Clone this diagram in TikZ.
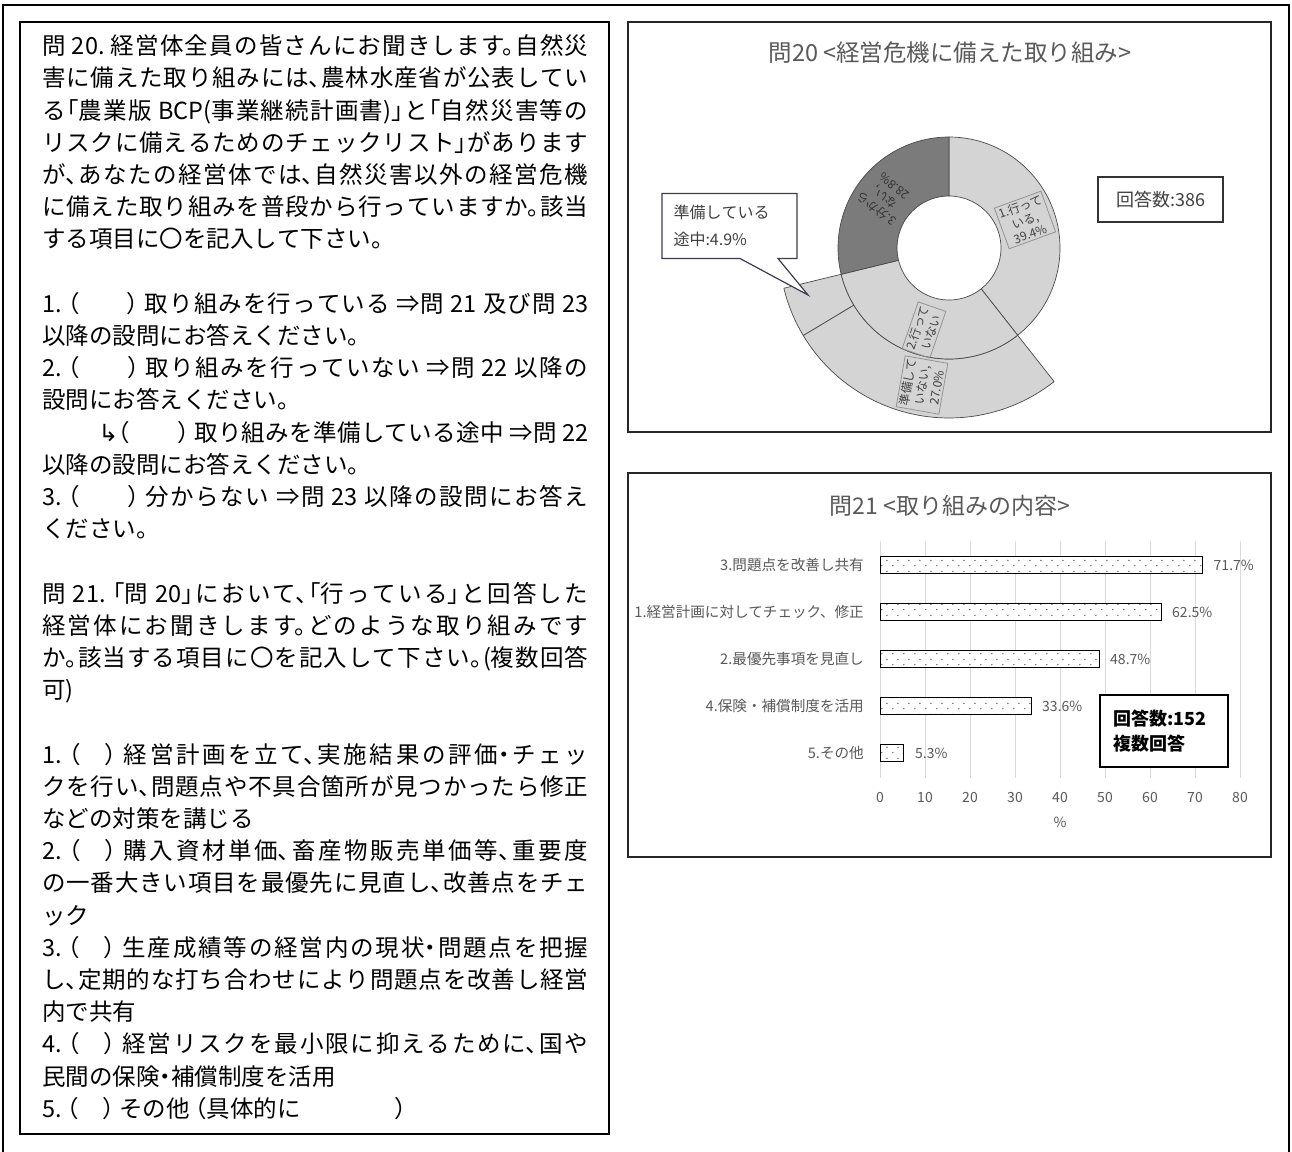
\documentclass[tikz,border=0pt]{standalone}
\usepackage{fontspec}
\usetikzlibrary{shapes.callouts,patterns}
\newfontfamily\jp{Noto Sans CJK JP}
\newfontfamily\jpq{Noto Sans CJK JP}[RawFeature=+halt]
\newfontfamily\dvs{DejaVu Sans}
\XeTeXlinebreaklocale "ja"
\XeTeXlinebreakskip=0pt plus 3pt minus 1pt
\definecolor{txtgray}{HTML}{595959}
\definecolor{lblgray}{HTML}{404040}
\definecolor{segl}{HTML}{D4D4D4}
\definecolor{segd}{HTML}{7B7B7B}
\definecolor{edge}{HTML}{4A4A4A}
\definecolor{gridc}{HTML}{D9D9D9}
\definecolor{callb}{HTML}{3C3C52}
\pgfdeclarepatternformonly{sparsedots}{\pgfqpoint{0pt}{0pt}}{\pgfqpoint{11pt}{11pt}}{\pgfqpoint{11pt}{11pt}}{%
  \pgfpathcircle{\pgfqpoint{2pt}{2.5pt}}{0.75pt}%
  \pgfpathcircle{\pgfqpoint{7.5pt}{8pt}}{0.75pt}%
  \pgfusepath{fill}}
\tikzset{
  seg/.style={draw=edge, line width=0.7pt, line join=round},
  dlbl/.style={font=\jp\fontsize{12}{14.5}\selectfont, text=lblgray, align=center, inner sep=2pt},
  dbox/.style={dlbl, draw=gray!85, line width=0.8pt},
  cat/.style={font=\jp\fontsize{14.6}{16}\selectfont, text=txtgray, anchor=east, inner sep=0pt},
  val/.style={font=\jp\fontsize{14}{16}\selectfont, text=txtgray, anchor=west, inner sep=0pt},
  tick/.style={font=\jp\fontsize{14}{16}\selectfont, text=txtgray, inner sep=0pt},
  ctitle/.style={font=\jp\fontsize{23.5}{27}\selectfont, text=txtgray, inner sep=0pt},
  bar/.style={draw=black, line width=0.9pt, preaction={fill=white}, pattern=sparsedots, pattern color=black!75},
  panel/.style={draw=black!85, line width=1.6pt},
  gridl/.style={draw=gridc, line width=0.8pt}
}
\begin{document}
\begin{tikzpicture}[x=1pt, y=-1pt]
\useasboundingbox (0,0) rectangle (1292,1151);
\fill[white] (0,0) rectangle (1292,1151);
% outer frame
\draw[line width=2pt] (3,1165) -- (3,5) -- (1289,5) -- (1289,1165);

% ---------------- left question box
\draw[line width=1.2pt] (20,22) rectangle (609,1134);
\node[anchor=north west, inner sep=0pt, text width=546pt, align=justify,
      font=\jpq\fontsize{23.5}{32.2}\selectfont] (qtext) at (42,34.5) {%
\parindent=0pt\tolerance=1000\hfuzz=40pt\emergencystretch=0pt
問 20.\ 経営体全員の皆さんにお聞きします。自然災\linebreak
害に備えた取り組みには、農林水産省が公表してい\linebreak
る「農業版 BCP(事業継続計画書)」と「自然災害等の\linebreak
リスクに備えるためのチェックリスト」があります\linebreak
が、あなたの経営体では、自然災害以外の経営危機\linebreak
に備えた取り組みを普段から行っていますか。該当\linebreak
する項目に〇を記入して下さい。\par\vskip32.2pt
1.\ （　　）\ 取り組みを行っている\ ⇒問 21 及び問 23\linebreak
以降の設問にお答えください。\par
2.\ （　　）\ 取り組みを行っていない\ ⇒問 22 以降の\linebreak
設問にお答えください。\par
\hspace*{2.4em}{\dvs ↳}（　　）\ 取り組みを準備している途中\ ⇒問 22\linebreak
以降の設問にお答えください。\par
3.\ （　　）\ 分からない\ ⇒問 23 以降の設問にお答え\linebreak
ください。\par\vskip32.2pt
問 21.\ 「問 20」において、「行っている」と回答した\linebreak
経営体にお聞きします。どのような取り組みです\linebreak
か。該当する項目に〇を記入して下さい。(複数回答\linebreak
可)\par\vskip32.2pt
1.\ （　）\ 経営計画を立て、実施結果の評価・チェッ\linebreak
クを行い、問題点や不具合箇所が見つかったら修正\linebreak
などの対策を講じる\par
2.\ （　）\ 購入資材単価、畜産物販売単価等、重要度\linebreak
の一番大きい項目を最優先に見直し、改善点をチェ\linebreak
ック\par
3.\ （　）\ 生産成績等の経営内の現状・問題点を把握\linebreak
し、定期的な打ち合わせにより問題点を改善し経営\linebreak
内で共有\par
4.\ （　）\ 経営リスクを最小限に抑えるために、国や\linebreak
民間の保険・補償制度を活用\par
5.\ （　）\ その他\ （具体的に　　　　）\par};

% ---------------- chart 1 : doughnut
\draw[panel] (628,22) rectangle (1271,432);
\node[ctitle] (t1) at (950,53) {問20 <経営危機に備えた取り組み>};
\begin{scope}[shift={(949,248)}, y=1pt]
  % outer ring (breakdown of "not doing")
  \filldraw[seg, fill=segl] (193.7:111) arc[start angle=193.7, end angle=211, radius=111]
     -- (211:170) arc[start angle=211, end angle=193.7, radius=170] -- cycle;
  \filldraw[seg, fill=segl] (211:111) arc[start angle=211, end angle=308.2, radius=111]
     -- (308.2:170) arc[start angle=308.2, end angle=211, radius=170] -- cycle;
  % inner ring
  \filldraw[seg, fill=segl] (-51.8:52) arc[start angle=-51.8, end angle=90, radius=52]
     -- (90:111) arc[start angle=90, end angle=-51.8, radius=111] -- cycle;
  \filldraw[seg, fill=segl] (193.7:52) arc[start angle=193.7, end angle=308.2, radius=52]
     -- (308.2:111) arc[start angle=308.2, end angle=193.7, radius=111] -- cycle;
  \filldraw[seg, fill=segd] (90:52) arc[start angle=90, end angle=193.7, radius=52]
     -- (193.7:111) arc[start angle=193.7, end angle=90, radius=111] -- cycle;
\end{scope}
\node[dbox, rotate=20] (l1) at (1025,220) {1.行って\\いる,\\39.4\%};
\node[dlbl, rotate=142, text=black!80] (l3) at (885,198) {3.分から\\ない,\\28.8\%};
\node[dbox, rotate=71] (l2) at (924,330) {2.行って\\いない};
\node[dbox, rotate=80] (l2a) at (922,385) {準備して\\いない,\\27.0\%};
\node[rectangle callout, draw=callb, fill=white, line width=1.2pt,
      callout absolute pointer={(808,295)}, callout pointer width=38pt,
      minimum width=135pt, minimum height=65pt, text width=112pt, align=left,
      inner sep=0pt, font=\jp\fontsize{16}{27}\selectfont, text=lblgray] (l2b) at (729.5,226) {準備している\\途中:4.9\%};
\node[draw=black!80, line width=1.2pt, fill=white, minimum width=125pt, minimum height=45pt,
      font=\jp\fontsize{18}{22}\selectfont, text=lblgray] (n1) at (1160.5,199.5) {回答数:386};

% ---------------- chart 2 : bar chart
\draw[panel] (628,473) rectangle (1271,857);
\node[ctitle, font=\jp\fontsize{23}{27}\selectfont] (t2) at (950,506) {問21 <取り組みの内容>};
\foreach \k in {0,...,8}{
  \draw[gridl] (880+45*\k,541) -- (880+45*\k,778);
  \pgfmathtruncatemacro\lab{10*\k}
  \node[tick] (tk\k) at (880+45*\k,797) {\lab};
}
\node[tick] (axt) at (1060,822) {\%};
% bars: value*4.5
\draw[bar] (880,556.5) rectangle (1202.65,573.5);
\draw[bar] (880,603.5) rectangle (1161.25,620.5);
\draw[bar] (880,650.5) rectangle (1099.15,667.5);
\draw[bar] (880,697.5) rectangle (1031.2,714.5);
\draw[bar] (880,744.5) rectangle (903.85,761.5);
\node[cat] (c3) at (864,565) {3.問題点を改善し共有};
\node[cat] (c1) at (864,612) {1.経営計画に対してチェック、修正};
\node[cat] (c2) at (864,659) {2.最優先事項を見直し};
\node[cat] (c4) at (864,706) {4.保険・補償制度を活用};
\node[cat] (c5) at (864,753) {5.その他};
\node[val] (v3) at (1213.5,565) {71.7\%};
\node[val] (v1) at (1172,612) {62.5\%};
\node[val] (v2) at (1110,659) {48.7\%};
\node[val] (v4) at (1042,706) {33.6\%};
\node[val] (v5) at (915,753) {5.3\%};
\node[draw=black, line width=1.2pt, fill=white, minimum width=128pt, minimum height=72pt,
      text width=102pt, align=left, inner sep=0pt,
      font=\jp\bfseries\fontsize{18}{25}\selectfont] (n2) at (1164,731) {回答数:152\\複数回答};
\end{tikzpicture}
\end{document}
